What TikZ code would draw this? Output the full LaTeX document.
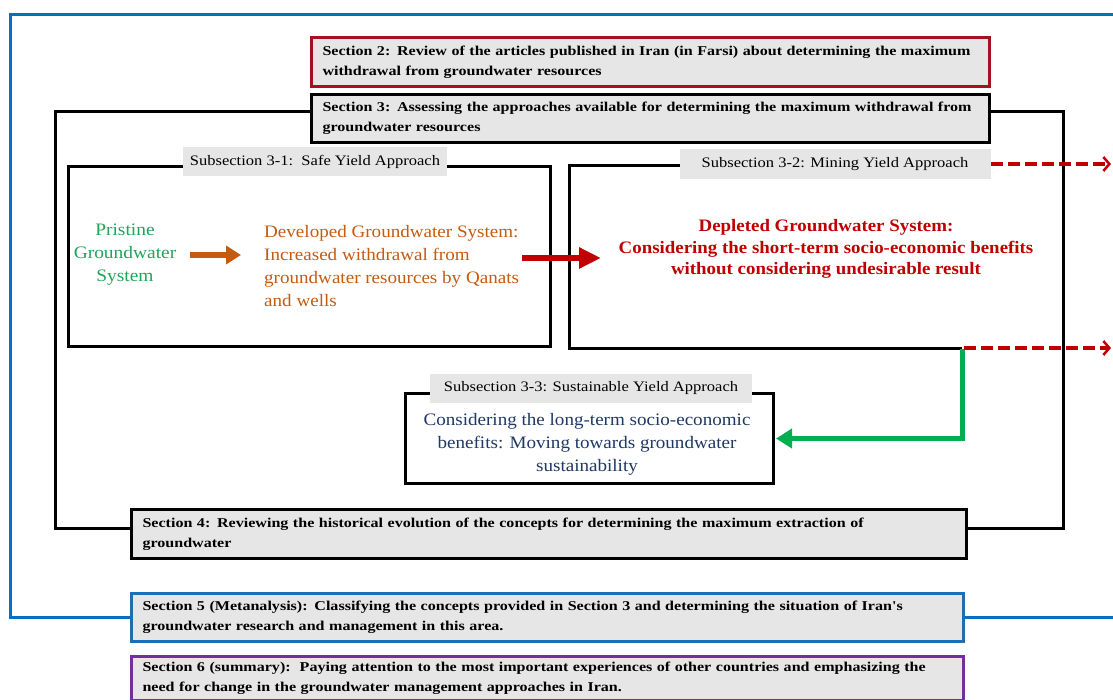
\documentclass[tikz,border=0pt]{standalone}
\usepackage{fontspec}
\setmainfont{Liberation Serif}
\newfontfamily\secfont[FakeStretch=1.19, WordSpace=1.8]{Liberation Serif}
\newfontfamily\labfont[FakeStretch=1.14]{Liberation Serif}
\newfontfamily\devfont[FakeStretch=1.09]{Liberation Serif}
\newfontfamily\pristfont[FakeStretch=1.11]{Liberation Serif}
\newfontfamily\depfont[FakeStretch=1.08]{Liberation Serif}
\newfontfamily\sustfont[FakeStretch=1.09]{Liberation Serif}
\usetikzlibrary{arrows.meta}
\definecolor{frameblue}{RGB}{0,112,192}
\definecolor{sectwored}{RGB}{165,18,30}
\definecolor{boxgray}{RGB}{230,230,230}
\definecolor{pristgreen}{RGB}{30,165,90}
\definecolor{devorange}{RGB}{197,90,17}
\definecolor{depred}{RGB}{192,0,0}
\definecolor{sustnavy}{RGB}{31,56,100}
\definecolor{secfiveblue}{RGB}{30,110,180}
\definecolor{secsixpurple}{RGB}{112,48,160}
\definecolor{arrgreen}{RGB}{0,176,80}
\begin{document}
\begin{tikzpicture}[x=1pt,y=-1pt,
  secbox/.style={draw, line width=3pt, fill=boxgray, anchor=north west,
    inner xsep=11pt, inner ysep=0pt, align=left,
    font=\secfont\bfseries\fontsize{13.5}{20}\selectfont},
  subframe/.style={draw, line width=3pt, anchor=north west, inner sep=0pt},
  sublabel/.style={fill=boxgray, inner sep=0pt, font=\labfont\fontsize{14.5}{16}\selectfont},
  bodytext/.style={inner sep=0pt},
  solidarrow/.style={line width=5.5pt, -{Triangle[length=16pt,width=19pt]}},
  dasharrow/.style={draw=depred, line width=3.5pt, dash pattern=on 12pt off 5pt,
    -{Straight Barb[length=6pt,width=14pt,line width=2.5pt]}}
]
\useasboundingbox (0,0) rectangle (1113,700);

% outer blue frame, open on the right
\draw[frameblue, line width=3pt] (1113,15) -- (10,15) -- (10,617) -- (1113,617);

% frame of section 3
\draw[line width=3pt] (55,112) rectangle (1063,528);

% section headers
\node[secbox, draw=sectwored, text width=656pt, minimum height=49pt] (s2) at (310,36)
  {Section 2: Review of the articles published in Iran (in Farsi) about determining the maximum\\
   withdrawal from groundwater resources};
\node[secbox, text width=656pt, minimum height=48pt] (s3) at (310,93)
  {Section 3: Assessing the approaches available for determining the maximum withdrawal from\\
   groundwater resources};
\node[secbox, text width=813pt, minimum height=49pt] (s4) at (130,508)
  {Section 4: Reviewing the historical evolution of the concepts for determining the maximum extraction of\\
   groundwater};

% subsection 3-1
\node[subframe, minimum width=482pt, minimum height=180pt] (ss1) at (67,165) {};
\node[sublabel, minimum width=264pt, minimum height=29pt] (ss1lab) at (315,162)
  {Subsection 3-1:\ \ Safe Yield Approach};

% subsection 3-2 (open on the right)
\coordinate (g0) at (962,348);
\coordinate (tipx) at (1111,0);
\draw[line width=3pt] (g0) -- (569,348) -- (569,166) -- (980,166);
\node[sublabel, minimum width=311pt, minimum height=30pt] (ss2lab) at (835,164)
  {Subsection 3-2: Mining Yield Approach};

% subsection 3-3
\node[subframe, minimum width=368pt, minimum height=90pt, fill=white] (ss3) at (404,392) {};
\node[sublabel, minimum width=322pt, minimum height=29pt] (ss3lab) at (591,388.5)
  {Subsection 3-3: Sustainable Yield Approach};

% contents
\node[bodytext, text=pristgreen, align=center,
      font=\pristfont\fontsize{17.5}{23}\selectfont] (prist) at (125,255)
  {Pristine\\Groundwater\\System};
\node[bodytext, text=devorange, align=left, anchor=west,
      font=\devfont\fontsize{17.5}{23}\selectfont] (dev) at (264,266)
  {Developed Groundwater System:\\Increased withdrawal from\\groundwater resources by Qanats\\and wells};
\node[bodytext, text=depred, align=center,
      font=\depfont\bfseries\fontsize{17.5}{21.5}\selectfont] (dep) at (826,249)
  {Depleted Groundwater System:\\Considering the short-term socio-economic benefits\\without considering undesirable result};
\node[bodytext, text=sustnavy, align=center,
      font=\sustfont\fontsize{17.5}{23}\selectfont] (sust) at (587,444)
  {Considering the long-term socio-economic\\benefits: Moving towards groundwater\\sustainability};

% connectors
\coordinate (o1) at (190,255);
\coordinate (o2) at (241,255);
\draw[solidarrow, devorange, -{Triangle[length=15pt,width=18pt]}] (o1) -- (o2);
\coordinate (r1) at (522,258);
\coordinate (r2) at (601,258);
\draw[solidarrow, depred, -{Triangle[length=22pt,width=20pt]}] (r1) -- (r2);
\draw[solidarrow, arrgreen, line width=5pt] ([yshift=-1pt]g0) |- ([xshift=1pt]ss3.east);
\draw[dasharrow] (ss2lab.east) -- (ss2lab.east -| tipx);
\draw[dasharrow] ([xshift=2pt]g0) -- (g0 -| tipx);

% sections 5 and 6
\node[secbox, draw=secfiveblue, text width=810pt, minimum height=48pt] (s5) at (130,592)
  {Section 5 (Metanalysis): Classifying the concepts provided in Section 3 and determining the situation of Iran's\\
   groundwater research and management in this area.};
\node[secbox, draw=secsixpurple, text width=810pt, minimum height=44pt] (s6) at (130,655)
  {Section 6 (summary):\ \ Paying attention to the most important experiences of other countries and emphasizing the\\
   need for change in the groundwater management approaches in Iran.};
\end{tikzpicture}
\end{document}
